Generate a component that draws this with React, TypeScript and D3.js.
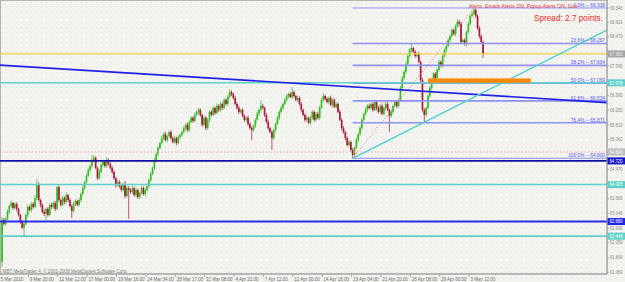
import React from "react";
import * as d3 from "d3";

// ---------- DATA ----------
const openFirst = 61.67;
const closes = [
  62.94, 62.82, 62.97, 63.18, 63.36, 63.45, 63.30, 63.42, 63.27, 63.09,
  62.88, 62.70, 62.82, 63.09, 63.33, 63.24, 63.42, 63.33, 63.60, 64.02,
  63.54, 63.39, 63.18, 63.12, 63.27, 63.09, 63.39, 63.33, 63.45, 63.27,
  63.93, 63.54, 63.39, 63.60, 63.48, 63.69, 63.54, 63.36, 63.21, 63.42,
  63.51, 63.39, 63.54, 63.72, 63.90, 64.08, 64.27, 64.45, 64.57, 64.75,
  64.81, 64.51, 64.20, 64.39, 64.60, 64.69, 64.57, 64.75, 64.63, 64.51,
  64.39, 64.20, 63.99, 64.08, 63.96, 63.84, 64.02, 63.66, 63.90, 63.84,
  63.78, 63.90, 63.69, 63.84, 63.63, 63.75, 63.90, 63.72, 63.84, 63.96,
  64.14, 64.33, 64.51, 64.75, 64.93, 65.11, 65.26, 65.41, 65.53, 65.35,
  65.47, 65.59, 65.41, 65.29, 65.41, 65.26, 65.44, 65.50, 65.59, 65.71,
  65.81, 65.65, 65.90, 66.02, 65.93, 66.11, 66.20, 66.26, 66.11, 65.81,
  66.02, 65.71, 65.96, 66.20, 66.11, 66.32, 66.17, 66.38, 66.26, 66.44,
  66.32, 66.56, 66.44, 66.65, 66.80, 66.74, 66.62, 66.44, 66.32, 66.20,
  66.26, 66.08, 65.96, 66.02, 65.84, 65.71, 65.65, 65.78, 65.96, 66.14,
  66.26, 66.38, 66.32, 66.11, 65.90, 65.71, 65.59, 65.41, 65.65, 65.84,
  66.02, 66.20, 66.32, 66.44, 66.56, 66.68, 66.74, 66.65, 66.80, 66.68,
  66.56, 66.62, 66.44, 66.26, 66.11, 65.96, 66.02, 65.87, 66.02, 66.20,
  65.96, 66.14, 66.02, 66.32, 66.56, 66.68, 66.59, 66.50, 66.62, 66.41,
  66.56, 66.35, 66.44, 66.20, 65.96, 65.71, 65.59, 65.41, 65.20, 65.29,
  65.05, 64.90, 65.11, 65.35, 65.53, 65.71, 65.96, 66.14, 66.26, 66.38,
  66.32, 66.44, 66.26, 66.50, 66.32, 66.20, 66.38, 66.14, 66.32, 66.44,
  66.26, 66.08, 66.20, 66.38, 66.50, 66.38, 66.56, 66.92, 67.22, 67.41,
  67.65, 67.89, 68.07, 68.13, 68.01, 67.89, 67.95, 67.71, 67.16, 66.26,
  66.11, 66.32, 66.68, 66.92, 67.16, 67.35, 67.22, 67.47, 67.71, 67.59,
  67.89, 68.07, 68.19, 68.37, 68.49, 68.67, 68.55, 68.79, 68.92, 68.86,
  68.31, 68.37, 68.25, 68.61, 68.86, 69.10, 69.16, 69.28, 69.10, 68.73,
  68.49, 68.31, 67.95,
];
const upperWicks = [
  .09, .06, .05, .08, .04, .07, .03, .06, .05, .04,
  .03, .06, .08, .05, .07, .04, .06, .05, .09, .15,
  .06, .04, .05, .08, .03, .06, .05, .07, .04, .06,
  .03, .05, .04, .07, .05, .09, .04, .06, .05, .07,
  .05, .04, .06, .05, .07, .04, .06, .05, .04, .15,
  .08, .05, .04, .07, .05, .06, .04, .08, .05, .04,
  .06, .05, .04, .07, .05, .06, .04, .09, .05, .06,
  .05, .07, .04, .06, .05, .04, .07, .05, .06, .04,
  .05, .06, .04, .07, .05, .06, .04, .08, .05, .07,
  .05, .04, .06, .05, .07, .04, .06, .05, .04, .06,
  .05, .07, .04, .06, .05, .08, .04, .06, .05, .04,
  .06, .05, .07, .04, .06, .05, .04, .07, .05, .06,
  .04, .06, .05, .07, .09, .05, .04, .06, .05, .07,
  .04, .06, .05, .04, .07, .05, .06, .04, .05, .07,
  .05, .18, .06, .04, .05, .07, .04, .06, .05, .04,
  .06, .05, .07, .04, .06, .05, .04, .06, .15, .05,
  .04, .07, .05, .06, .04, .05, .07, .04, .06, .05,
  .04, .06, .05, .07, .05, .09, .04, .06, .05, .07,
  .04, .06, .05, .04, .07, .05, .06, .04, .05, .07,
  .04, .06, .05, .07, .04, .06, .05, .04, .07, .05,
  .06, .04, .05, .07, .04, .06, .05, .08, .04, .06,
  .05, .04, .07, .05, .06, .04, .05, .07, .06, .05,
  .07, .05, .06, .15, .04, .06, .05, .07, .04, .06,
  .05, .04, .06, .07, .05, .04, .06, .05, .07, .04,
  .06, .05, .04, .07, .05, .06, .04, .05, .07, .06,
  .05, .04, .06, .05, .07, .04, .06, .06, .05, .04,
  .06, .05, .04,
];
const lowerWicks = [
  .15, .05, .06, .04, .07, .05, .06, .04, .08, .05,
  .06, .04, .28, .05, .07, .04, .06, .05, .04, .06,
  .05, .07, .04, .06, .18, .05, .04, .06, .05, .07,
  .04, .06, .05, .04, .07, .05, .06, .04, .21, .05,
  .06, .04, .05, .07, .04, .06, .05, .04, .06, .05,
  .07, .04, .06, .05, .04, .07, .05, .06, .04, .05,
  .06, .04, .07, .05, .06, .04, .05, .07, .04, .87,
  .05, .06, .04, .07, .05, .06, .04, .05, .07, .04,
  .06, .05, .04, .07, .05, .06, .04, .05, .06, .04,
  .07, .05, .06, .04, .05, .07, .04, .06, .05, .04,
  .06, .05, .07, .04, .06, .05, .04, .07, .05, .06,
  .04, .06, .05, .07, .04, .05, .06, .04, .07, .05,
  .06, .04, .05, .07, .04, .06, .05, .04, .06, .07,
  .05, .04, .06, .05, .07, .04, .30, .05, .06, .04,
  .07, .05, .04, .06, .05, .07, .04, .36, .05, .06,
  .04, .07, .05, .06, .04, .05, .07, .04, .06, .05,
  .04, .06, .05, .07, .04, .06, .05, .04, .07, .05,
  .06, .04, .05, .07, .04, .06, .05, .04, .06, .05,
  .07, .04, .06, .05, .04, .07, .05, .06, .04, .05,
  .06, .10, .05, .04, .07, .05, .06, .04, .05, .07,
  .04, .06, .05, .04, .07, .05, .06, .04, .05, .07,
  .04, .49, .05, .06, .04, .07, .05, .06, .04, .05,
  .06, .04, .05, .07, .04, .06, .05, .04, .06, .05,
  .24, .05, .04, .06, .05, .07, .04, .06, .05, .04,
  .06, .05, .07, .04, .06, .05, .04, .07, .05, .06,
  .04, .06, .05, .07, .04, .06, .05, .04, .06, .05,
  .07, .04, .12,
];

const priceTickLabels = [
  "69.340", "68.910", "68.470", "68.030", "67.590", "67.150", "66.690",
  "66.250", "65.810", "65.360", "64.920", "64.470", "64.030", "63.580",
  "63.140", "62.690", "62.250", "61.800", "61.360",
];
const dateLabels = [
  "5 Mar 2010", "9 Mar 20:00", "12 Mar 12:00", "17 Mar 00:00", "19 Mar 16:00",
  "24 Mar 04:00", "28 Mar 17:00", "31 Mar 08:00", "4 Apr 21:00", "7 Apr 12:00",
  "12 Apr 00:00", "14 Apr 16:00", "19 Apr 04:00", "21 Apr 20:00", "26 Apr 08:00",
  "29 Apr 00:00", "3 May 12:00",
];
const dateLabelBars = [0, 16, 32, 48, 64, 80, 96, 112, 128, 144, 160, 176, 192, 208, 224, 240, 256];

const fibRatios = [0, 23.6, 38.2, 50, 61.8, 76.4, 100];
const fibAnchorBars = [191, 257];
const fibAnchorPrices = [64.8, 69.338];

const levelPrices = [67.95, 67.078, 64.99, 64.72, 64.005, 62.89, 62.448];

const downTrendBars = [0, 329.5];
const downTrendPrices = [67.61, 66.48];
const upTrendBars = [191, 250];
const upTrendPrices = [64.8, 66.45];

const zoneBars = [232, 288];
const zonePrices = [67.08, 67.21];

const alertText = "Alerts:  Emails Alerts ON,  Popup Alerts ON,  Sou";
const spreadText = "Spread: 2.7 points.";
const copyrightText = "MBT MetaTrader 4, \u00A9 2001-2008 MetaQuotes Software Corp.";

// ---------- STYLES ----------
const W = 625;
const H = 282;
const PR = 607; // plot right
const PB = 274; // plot bottom
const FONT = "'Liberation Sans', Arial, sans-serif";

const levelStyles = [
  { stroke: "#f6d24a", w: 1.2, dash: undefined, box: "#a4a4a4", text: "#eeeeee" },
  { stroke: "#5fd1ca", w: 1.5, dash: undefined, box: "#5fd0c8", text: "#ffffff" },
  { stroke: "#e9aab4", w: 1, dash: "1.5,2", box: "#bcbcbc", text: "#ffffff" },
  { stroke: "#10109e", w: 1.8, dash: undefined, box: "#1212c8", text: "#ffffff" },
  { stroke: "#5fd1ca", w: 1.5, dash: undefined, box: "#5fd0c8", text: "#ffffff" },
  { stroke: "#2c2cf0", w: 2, dash: undefined, box: "#2222e6", text: "#ffffff" },
  { stroke: "#5fd1ca", w: 1.6, dash: undefined, box: "#5fd0c8", text: "#ffffff" },
];

export default function App() {
  const x = d3.scaleLinear().domain([0, 329.5]).range([2, PR]);
  const y = d3.scaleLinear().domain([61.36, 69.34]).range([272.2, 7.9]);

  const candles = closes.map((c, i) => {
    const o = i === 0 ? openFirst : closes[i - 1];
    const hi = Math.max(o, c) + upperWicks[i];
    const lo = Math.min(o, c) - lowerWicks[i];
    return { i, o, c, hi, lo, bull: c >= o };
  });

  const rayPath = (bars: number[], prices: number[], from: number, to: number) => {
    const slope = (prices[1] - prices[0]) / (bars[1] - bars[0]);
    const p = (b: number) => prices[0] + (b - bars[0]) * slope;
    return d3.line()([
      [x(from), y(p(from))],
      [x(to), y(p(to))],
    ]) as string;
  };

  const fibRange = fibAnchorPrices[1] - fibAnchorPrices[0];
  const fibX0 = x(fibAnchorBars[0]);

  // axis tick labels hidden behind the price boxes of the level lines (as in MT4)
  const visibleTicks = priceTickLabels.filter(
    (t) => !levelPrices.some((p) => Math.abs(y(p) - y(+t)) < 5.5)
  );

  return (
    <svg
      width={W}
      height={H}
      style={{ position: "absolute", left: 0, top: 0, display: "block" }}
      fontFamily={FONT}
    >
      <defs>
        <pattern id="dots" width="5" height="5" patternUnits="userSpaceOnUse">
          <rect x="1" y="2" width="1" height="1" fill="#dfe0da" />
          <rect x="3.5" y="4.5" width="0.8" height="0.8" fill="#e4e5df" />
        </pattern>
        <clipPath id="plot">
          <rect x={0} y={0} width={PR} height={PB} />
        </clipPath>
      </defs>
      <rect x={0} y={0} width={W} height={H} fill="#f3f4ef" />
      <rect x={0} y={0} width={W} height={H} fill="url(#dots)" />

      {/* frame */}
      <rect x={0.5} y={0.5} width={PR - 0.5} height={PB - 0.5} fill="none" stroke="#b4b4b0" strokeWidth={1} />

      <g clipPath="url(#plot)">
        {/* candles */}
        {candles.map((d) => {
          const cx = x(d.i);
          const top = y(Math.max(d.o, d.c));
          const bot = y(Math.min(d.o, d.c));
          const col = d.bull ? "#38bd26" : "#ae1a3a";
          const wick = d.bull ? "#5fbf52" : "#b8406a";
          return (
            <g key={d.i}>
              <line x1={cx} x2={cx} y1={y(d.hi)} y2={y(d.lo)} stroke={wick} strokeWidth={0.9} />
              <rect x={cx - 0.85} y={top} width={1.7} height={Math.max(0.8, bot - top)} fill={col} />
            </g>
          );
        })}

        {/* fibonacci levels */}
        {fibRatios.map((r) => {
          const p = fibAnchorPrices[1] - (r / 100) * fibRange;
          return (
            <line key={"fl" + r} x1={fibX0} x2={PR} y1={y(p)} y2={y(p)} stroke="#9090f2" strokeWidth={r === 0 || r === 100 ? 1 : 1.6} />
          );
        })}

        {/* horizontal levels */}
        {levelPrices.map((p, k) => (
          <line
            key={"lv" + k}
            x1={0}
            x2={PR}
            y1={y(p)}
            y2={y(p)}
            stroke={levelStyles[k].stroke}
            strokeWidth={levelStyles[k].w}
            strokeDasharray={levelStyles[k].dash}
          />
        ))}

        {/* fib baseline dotted */}
        <path
          d={d3.line()([
            [x(fibAnchorBars[0]), y(fibAnchorPrices[0])],
            [x(fibAnchorBars[1]), y(fibAnchorPrices[1])],
          ]) as string}
          stroke="#ee6a86"
          strokeWidth={1}
          strokeDasharray="1,2"
          fill="none"
        />

        {/* trend lines */}
        <path d={rayPath(downTrendBars, downTrendPrices, -2, 331)} stroke="#1e1ee8" strokeWidth={1.6} fill="none" />
        <path d={rayPath(upTrendBars, upTrendPrices, upTrendBars[0], 331)} stroke="#4ecfcb" strokeWidth={1.4} fill="none" />

        {/* orange zone */}
        <rect
          x={x(zoneBars[0])}
          y={y(zonePrices[1])}
          width={x(zoneBars[1]) - x(zoneBars[0])}
          height={y(zonePrices[0]) - y(zonePrices[1])}
          fill="#ff8a00"
        />
      </g>

      {/* fib labels */}
      {fibRatios.map((r) => {
        const p = fibAnchorPrices[1] - (r / 100) * fibRange;
        const label = `${r.toFixed(1)}% -- ${p.toFixed(3)}`;
        return (
          <text key={"ft" + r} x={605} y={y(p) - 1.2} fontSize={4.8} fill="#5454ee" textAnchor="end">
            {label}
          </text>
        );
      })}

      {/* alerts text */}
      <text x={469} y={7.6} fontSize={5} fill="#e23a3a" textLength={108} lengthAdjust="spacingAndGlyphs">
        {alertText}
      </text>
      <text x={534} y={20.5} fontSize={9.2} fill="#ee2a2a" textLength={69} lengthAdjust="spacingAndGlyphs">
        {spreadText}
      </text>

      {/* copyright */}
      <text x={2.6} y={272.6} fontSize={4.6} fill="#7a7a7a" textLength={125} lengthAdjust="spacingAndGlyphs">
        {copyrightText}
      </text>

      {/* right axis */}
      <line x1={PR} x2={PR} y1={0} y2={PB} stroke="#9a9a9a" strokeWidth={1} />
      <line x1={0} x2={PR} y1={PB} y2={PB} stroke="#9a9a9a" strokeWidth={1} />
      {priceTickLabels.map((t) => (
        <line key={"ptl" + t} x1={PR} x2={PR + 2} y1={y(+t)} y2={y(+t)} stroke="#9a9a9a" strokeWidth={0.8} />
      ))}
      {visibleTicks.map((t) => (
        <text key={"pt" + t} x={610} y={y(+t) + 1.7} fontSize={4.6} fill="#8a8a8a" textLength={12.5} lengthAdjust="spacingAndGlyphs">
          {t}
        </text>
      ))}
      {levelPrices.map((p, k) => (
        <g key={"lb" + k}>
          <rect x={PR + 0.5} y={y(p) - 3.5} width={17.5} height={7} fill={levelStyles[k].box} />
          <text x={609.5} y={y(p) + 1.8} fontSize={4.6} fill={levelStyles[k].text} textLength={13} lengthAdjust="spacingAndGlyphs">
            {p.toFixed(3)}
          </text>
        </g>
      ))}

      {/* bottom axis */}
      {dateLabels.map((t, k) => {
        const tx = x(dateLabelBars[k]) - 3;
        return (
          <g key={"dt" + k}>
            <line x1={tx} x2={tx} y1={PB} y2={PB + 3} stroke="#9a9a9a" strokeWidth={0.8} />
            <text x={tx + 1.4} y={280.6} fontSize={4.5} fill="#6a6a6a">
              {t}
            </text>
          </g>
        );
      })}
    </svg>
  );
}
